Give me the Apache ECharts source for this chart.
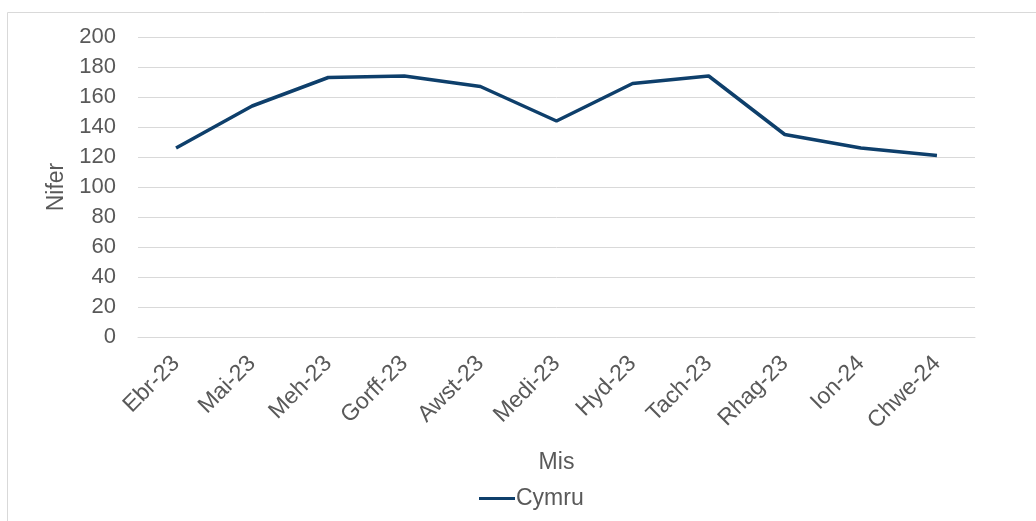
<!DOCTYPE html>
<html><head><meta charset="utf-8">
<script src="https://cdn.jsdelivr.net/npm/echarts@6/dist/echarts.min.js"></script>
<style>html,body{margin:0;padding:0;background:#fff}#c{width:1036px;height:521px}</style>
</head><body><div id="c"></div>
<script>
var categories = ['Ebr-23','Mai-23','Meh-23','Gorff-23','Awst-23','Medi-23','Hyd-23','Tach-23','Rhag-23','Ion-24','Chwe-24'];
var cymru = [126,154,173,174,167,144,169,174,135,126,121];
var seriesName = 'Cymru';
var xTitle = 'Mis';
var yTitle = 'Nifer';

var chart = echarts.init(document.getElementById('c'), null, {renderer:'canvas'});
var font = 'Liberation Sans, Arial, sans-serif';
var txt = '#595959';
chart.setOption({
  animation:false,
  graphic:[{type:'rect',shape:{x:7.5,y:12.5,width:1040,height:520},style:{fill:'none',stroke:'#d9d9d9',lineWidth:1}}],
  grid:{left:138,right:61,top:37,bottom:184,containLabel:false},
  legend:{data:[{name:seriesName}],left:474,top:482,itemWidth:36,itemHeight:3,itemGap:4,
    icon:'rect',textStyle:{color:txt,fontSize:23,fontFamily:font,lineHeight:23,padding:[0,0,0,-4]}},
  xAxis:{type:'category',data:categories,boundaryGap:true,
    name:xTitle,nameLocation:'middle',nameGap:114,nameTextStyle:{color:txt,fontSize:23,fontFamily:font},
    axisLine:{show:true,lineStyle:{color:'#d9d9d9',width:1}},axisTick:{show:false},
    axisLabel:{rotate:45,color:txt,fontSize:23,fontFamily:font,margin:23,interval:0}},
  yAxis:{type:'value',min:0,max:200,interval:20,
    name:yTitle,nameLocation:'middle',nameGap:70,nameRotate:90,nameTextStyle:{color:txt,fontSize:23,fontFamily:font},
    axisLine:{show:false},axisTick:{show:false},
    axisLabel:{color:txt,fontSize:22,fontFamily:font,margin:22},
    splitLine:{lineStyle:{color:'#d9d9d9',width:1}}},
  series:[{name:seriesName,type:'line',data:cymru,symbol:'none',
    lineStyle:{color:'#0e3f6b',width:3.5},itemStyle:{color:'#0e3f6b'}}]
});
</script></body></html>
